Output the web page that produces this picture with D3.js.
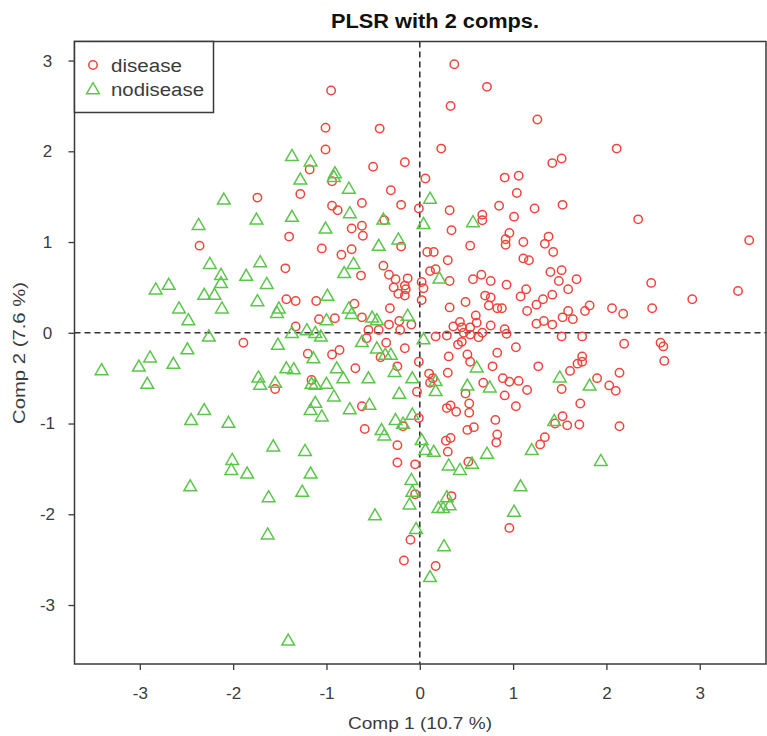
<!DOCTYPE html>
<html>
<head>
<meta charset="utf-8">
<script src="https://cdn.jsdelivr.net/npm/d3@7"></script>
<style>
  html, body { margin: 0; padding: 0; background: #fff; }
  svg { display: block; font-family: "Liberation Sans", Arial, sans-serif; }
</style>
</head>
<body>
<svg id="chart" width="767" height="736"></svg>
<script>
// ---- Data (Comp 1, Comp 2 scores) ----
const diseasePoints = [
  [-2.36,0.96],[-0.95,2.67],[-1.01,2.26],[-0.43,2.25],[-1.01,2.02],[-0.50,1.83],[-0.16,1.88],[-1.18,1.80],
  [-0.94,1.67],[-1.74,1.49],[-1.28,1.53],[-0.31,1.57],[-0.94,1.40],[-0.88,1.35],[-0.62,1.43],[-0.20,1.41],
  [-0.01,1.37],[-0.38,1.24],[-0.73,1.15],[-0.62,1.18],[-0.61,1.07],[-1.40,1.06],[-1.05,0.93],[-0.73,0.92],
  [0.37,2.96],[0.72,2.71],[0.33,2.50],[1.26,2.35],[0.23,2.03],[1.42,1.87],[1.52,1.92],[0.06,1.70],
  [0.91,1.71],[1.06,1.73],[1.04,1.54],[0.32,1.35],[0.85,1.40],[1.23,1.37],[1.53,1.41],[0.67,1.30],
  [0.67,1.24],[1.01,1.28],[0.34,1.13],[0.96,1.10],[0.92,1.03],[0.92,0.97],[1.11,1.00],[1.38,1.06],
  [1.34,0.98],[0.54,0.96],[2.11,2.03],[2.34,1.25],[3.53,1.02],[-1.89,-0.11],[-0.84,0.86],[-0.20,0.95],
  [-1.44,0.71],[-0.63,0.63],[-0.39,0.74],[-0.33,0.64],[-0.26,0.59],[-0.13,0.60],[-0.28,0.50],[-0.16,0.52],
  [-0.15,0.48],[-0.23,0.43],[-0.16,0.41],[0.02,0.56],[0.02,0.36],[-1.43,0.37],[-1.33,0.35],[-1.11,0.35],
  [-0.70,0.32],[-0.62,0.17],[-0.32,0.27],[-1.08,0.15],[-0.91,0.16],[-0.33,0.09],[-0.22,0.13],[-0.09,0.09],
  [-1.33,0.07],[-0.55,0.03],[-0.44,0.03],[-0.21,0.03],[-0.57,-0.06],[-0.36,-0.11],[-0.16,-0.17],[-1.20,-0.23],
  [-0.94,-0.24],[-0.86,-0.19],[-0.42,-0.27],[-0.01,-0.32],[-0.69,-0.39],[-0.24,-0.37],[-1.55,-0.62],[-1.16,-0.52],
  [-0.03,-0.65],[-0.62,-0.81],[-0.18,-1.03],[-0.01,-0.94],[-0.59,-1.06],[-0.24,-1.24],[0.08,0.89],[0.15,0.89],
  [1.43,0.89],[0.30,0.80],[1.11,0.82],[1.17,0.80],[0.11,0.68],[0.17,0.70],[0.32,0.57],[0.04,0.49],
  [0.57,0.59],[0.66,0.64],[0.76,0.57],[0.93,0.53],[1.40,0.67],[1.52,0.69],[1.49,0.57],[1.68,0.59],
  [1.59,0.48],[1.14,0.48],[1.08,0.40],[1.42,0.42],[1.32,0.37],[1.25,0.31],[0.70,0.41],[0.76,0.39],
  [0.49,0.34],[0.32,0.28],[0.74,0.30],[0.83,0.27],[0.88,0.27],[1.15,0.24],[1.82,0.30],[1.77,0.24],
  [1.59,0.24],[1.53,0.17],[1.64,0.15],[0.60,0.19],[0.61,0.11],[0.43,0.12],[0.36,0.07],[0.45,0.06],
  [0.54,0.06],[0.76,0.08],[0.91,0.04],[1.25,0.10],[1.33,0.13],[1.42,0.09],[0.17,-0.04],[0.29,-0.03],
  [0.47,0.00],[0.54,-0.02],[0.63,-0.05],[0.67,0.00],[0.93,-0.01],[1.52,-0.04],[1.74,-0.04],[0.45,-0.10],
  [0.41,-0.13],[0.83,-0.22],[1.03,-0.16],[0.51,-0.24],[0.54,-0.32],[0.31,-0.26],[0.78,-0.37],[1.27,-0.37],
  [1.74,-0.26],[1.74,-0.32],[1.69,-0.34],[1.61,-0.42],[1.90,-0.50],[0.30,-0.44],[0.10,-0.45],[0.14,-0.50],
  [0.11,-0.55],[0.49,-0.67],[0.68,-0.55],[0.89,-0.50],[0.96,-0.54],[1.06,-0.53],[1.15,-0.63],[1.52,-0.62],
  [0.91,-0.69],[0.53,-0.78],[0.29,-0.83],[0.33,-0.80],[0.39,-0.87],[0.53,-0.88],[1.03,-0.81],[1.72,-0.78],
  [1.53,-0.92],[1.45,-1.00],[1.58,-1.02],[1.71,-1.01],[0.81,-0.96],[0.58,-1.04],[0.51,-1.07],[0.83,-1.12],
  [0.82,-1.21],[1.34,-1.15],[1.29,-1.23],[0.33,-1.16],[0.28,-1.19],[2.48,0.55],[3.41,0.46],[2.92,0.37],
  [2.06,0.27],[2.18,0.21],[2.49,0.27],[2.19,-0.12],[2.58,-0.11],[2.61,-0.15],[2.62,-0.31],[2.14,-0.44],
  [2.03,-0.58],[2.10,-0.64],[2.14,-1.03],[-0.24,-1.43],[-0.05,-1.45],[-0.05,-1.78],[-0.10,-2.28],[-0.17,-2.51],
  [0.30,-1.31],[0.52,-1.42],[0.34,-1.80],[0.96,-2.15],[0.17,-2.57]
];

const nodiseasePoints = [
  [-2.10,1.47],[-2.37,1.19],[-1.37,1.95],[-1.17,1.89],[-1.28,1.69],[-0.91,1.76],[-0.92,1.72],[-0.76,1.59],
  [-0.75,1.32],[-1.75,1.25],[-1.37,1.28],[-0.39,1.25],[-1.01,1.15],[-0.23,1.03],[-0.44,0.96],[0.04,1.20],
  [0.11,1.48],[0.57,1.22],[-2.25,0.76],[-2.13,0.64],[-1.86,0.63],[-2.13,0.55],[-2.83,0.48],[-2.69,0.53],
  [-2.31,0.42],[-2.20,0.42],[-2.12,0.27],[-2.58,0.27],[-2.48,0.14],[-2.26,-0.04],[-2.49,-0.18],[-2.89,-0.27],
  [-3.01,-0.37],[-2.64,-0.34],[-3.41,-0.41],[-2.92,-0.56],[-2.31,-0.85],[-2.45,-0.96],[-2.05,-0.99],[-1.71,0.78],
  [-0.71,0.76],[-0.81,0.66],[-1.64,0.54],[-1.74,0.35],[-1.51,0.27],[-1.53,0.22],[-0.99,0.41],[-0.76,0.27],
  [-0.73,0.21],[-0.51,0.17],[-0.46,0.14],[-0.13,0.19],[-1.00,0.14],[-1.37,0.00],[-1.21,0.03],[-1.12,0.00],
  [-1.06,-0.04],[-0.62,-0.10],[-1.52,-0.13],[-0.46,-0.17],[-1.14,-0.28],[-0.37,-0.24],[-0.31,-0.24],[-1.43,-0.39],
  [-1.35,-0.40],[-0.89,-0.39],[-0.27,-0.43],[-1.73,-0.49],[-1.71,-0.57],[-1.55,-0.55],[-1.16,-0.56],[-1.12,-0.57],
  [-1.00,-0.56],[-0.82,-0.50],[-0.55,-0.50],[-0.08,-0.50],[-0.92,-0.70],[-0.22,-0.67],[-1.12,-0.77],[-1.17,-0.85],
  [-1.05,-0.92],[-0.75,-0.84],[-0.54,-0.79],[-0.26,-0.96],[-0.18,-1.00],[-0.08,-0.90],[-0.41,-1.07],[-0.38,-1.13],
  [0.02,-1.18],[-1.57,-1.25],[-1.23,-1.30],[0.21,0.60],[0.04,-0.07],[0.61,-0.38],[1.50,-0.49],[1.82,-0.58],
  [0.17,-0.53],[0.17,-0.64],[0.51,-0.58],[0.75,-0.60],[1.44,-0.97],[0.06,-1.29],[0.15,-1.31],[0.72,-1.33],
  [1.20,-1.29],[1.94,-1.41],[-2.01,-1.40],[-2.02,-1.51],[-1.85,-1.55],[-2.46,-1.69],[-1.17,-1.55],[-1.62,-1.81],
  [-1.26,-1.75],[-0.48,-2.01],[-1.63,-2.22],[-1.41,-3.39],[-0.09,-1.62],[-0.08,-1.75],[-0.11,-1.89],[-0.04,-2.16],
  [0.31,-1.46],[0.43,-1.51],[0.56,-1.44],[1.08,-1.69],[0.29,-1.81],[0.20,-1.93],[0.25,-1.93],[0.32,-1.90],
  [1.01,-1.97],[0.26,-2.35],[0.11,-2.69]
];

const xTicks = [-3, -2, -1, 0, 1, 2, 3];
const yTicks = [-3, -2, -1, 0, 1, 2, 3];
const seriesNames = ["disease", "nodisease"];
const seriesColors = ["#f0443c", "#5cc64c"];
const titleText = "PLSR with 2 comps.";
const xLabel = "Comp 1 (10.7 %)";
const yLabel = "Comp 2 (7.6 %)";

// ---- Layout ----
const svg = d3.select("#chart");
const pL = 74.5, pR = 766, pT = 41.5, pB = 664;
const x = d3.scaleLinear().domain([-3.7, 3.71]).range([pL, pR]);
const y = d3.scaleLinear().domain([-3.65, 3.21]).range([pB, pT]);
const axisColor = "#3a3a3a";
const textColor = "#3c3c3c";

// Title
svg.append("text")
  .attr("x", 331).attr("y", 28)
  .attr("font-size", 20).attr("font-weight", "bold")
  .attr("fill", "#111")
  .attr("textLength", 208).attr("lengthAdjust", "spacingAndGlyphs")
  .text(titleText);

// Axes (R style: ticks outward, labels)
const fmt = d => d < 0 ? "-" + Math.abs(d) : String(d);
const xAxis = d3.axisBottom(x).tickValues(xTicks).tickSize(6).tickFormat(fmt);
const gx = svg.append("g").attr("transform", `translate(0,${pB})`).call(xAxis);
gx.select(".domain").remove();
gx.selectAll(".tick line").attr("stroke", axisColor).attr("stroke-width", 1.3);
gx.selectAll(".tick text").attr("font-size", 17).attr("fill", textColor).attr("dy", "1.5em")
  .style("font-family", "'Liberation Sans', Arial, sans-serif");

const yAxis = d3.axisLeft(y).tickValues(yTicks).tickSize(6).tickFormat(fmt);
const gy = svg.append("g").attr("transform", `translate(${pL},0)`).call(yAxis);
gy.select(".domain").remove();
gy.selectAll(".tick line").attr("stroke", axisColor).attr("stroke-width", 1.3);
gy.selectAll(".tick text").attr("font-size", 17).attr("fill", textColor)
  .attr("x", -27).attr("text-anchor", "middle")
  .style("font-family", "'Liberation Sans', Arial, sans-serif");

// Axis titles
svg.append("text")
  .attr("x", 348).attr("y", 729)
  .attr("font-size", 17).attr("fill", textColor)
  .attr("textLength", 144).attr("lengthAdjust", "spacingAndGlyphs")
  .text(xLabel);
svg.append("text")
  .attr("transform", `translate(25,424) rotate(-90)`)
  .attr("font-size", 17).attr("fill", textColor)
  .attr("textLength", 142).attr("lengthAdjust", "spacingAndGlyphs")
  .text(yLabel);

// Reference lines at zero
svg.append("line")
  .attr("x1", x(0)).attr("x2", x(0)).attr("y1", pT).attr("y2", pB)
  .attr("stroke", "#333").attr("stroke-width", 1.6).attr("stroke-dasharray", "6,4");
svg.append("line")
  .attr("x1", pL).attr("x2", pR).attr("y1", y(0)).attr("y2", y(0))
  .attr("stroke", "#333").attr("stroke-width", 1.6).attr("stroke-dasharray", "6,4");

// Points
const gPts = svg.append("g");
gPts.selectAll("circle.dis").data(diseasePoints).join("circle")
  .attr("class", "dis")
  .attr("cx", d => x(d[0])).attr("cy", d => y(d[1])).attr("r", 4.2)
  .attr("fill", "none").attr("stroke", seriesColors[0]).attr("stroke-width", 1.5);

const tri = d3.symbol().type(d3.symbolTriangle).size(70);
gPts.selectAll("path.nodis").data(nodiseasePoints).join("path")
  .attr("class", "nodis")
  .attr("d", tri)
  .attr("transform", d => `translate(${x(d[0])},${y(d[1]) + 1})`)
  .attr("fill", "none").attr("stroke", seriesColors[1]).attr("stroke-width", 1.5);

// Plot box
svg.append("rect")
  .attr("x", pL).attr("y", pT).attr("width", pR - pL).attr("height", pB - pT)
  .attr("fill", "none").attr("stroke", axisColor).attr("stroke-width", 1.5);

// Legend
const lg = svg.append("g");
lg.append("rect")
  .attr("x", pL).attr("y", pT).attr("width", 139).attr("height", 71)
  .attr("fill", "#fff").attr("stroke", axisColor).attr("stroke-width", 1.5);
lg.append("circle").attr("cx", 93).attr("cy", 65).attr("r", 4.2)
  .attr("fill", "none").attr("stroke", seriesColors[0]).attr("stroke-width", 1.5);
lg.append("path").attr("d", tri).attr("transform", "translate(93,90)")
  .attr("fill", "none").attr("stroke", seriesColors[1]).attr("stroke-width", 1.5);
const legendWidths = [71, 93];
lg.selectAll("text.lab").data(seriesNames).join("text")
  .attr("class", "lab")
  .attr("x", 111).attr("y", (d, i) => 72 + i * 24)
  .attr("font-size", 18).attr("fill", textColor)
  .attr("textLength", (d, i) => legendWidths[i]).attr("lengthAdjust", "spacingAndGlyphs")
  .text(d => d);
</script>
</body>
</html>
